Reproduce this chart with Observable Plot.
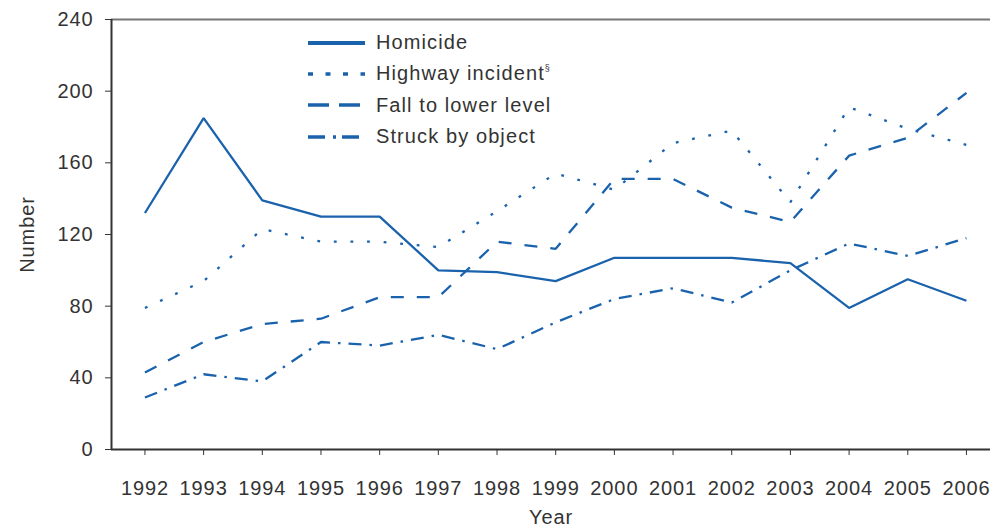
<!DOCTYPE html>
<html>
<head>
<meta charset="utf-8">
<script src="https://cdn.jsdelivr.net/npm/d3@7"></script>
<script src="https://cdn.jsdelivr.net/npm/@observablehq/plot@0.6"></script>
<style>
  html, body { margin: 0; padding: 0; background: #fff; }
  #wrap { position: relative; width: 990px; height: 529px; font-family: "Liberation Sans", Arial, sans-serif; }
  #legend { position: absolute; left: 308px; top: 27px; }
  .row { display: flex; align-items: center; height: 31.3px; }
  .row svg { width: 57px; height: 10px; margin-right: 11px; }
  .row span { font-size: 20px; color: #333; letter-spacing: 1.1px; }
  sup { font-size: 9px; vertical-align: 9px; letter-spacing: 0; }
  #wrap svg text { letter-spacing: 0.9px; }
</style>
</head>
<body>
<div id="wrap"></div>
<script>
const years = [1992, 1993, 1994, 1995, 1996, 1997, 1998, 1999, 2000, 2001, 2002, 2003, 2004, 2005, 2006];
const homicide = [132, 185, 139, 130, 130, 100, 99, 94, 107, 107, 107, 104, 79, 95, 83];
const highway = [79, 94, 123, 116, 116, 113, 133, 154, 145, 171, 178, 138, 191, 179, 170];
const fall = [43, 60, 70, 73, 85, 85, 116, 112, 151, 151, 135, 127, 164, 174, 199];
const struck = [29, 42, 38, 60, 58, 64, 56, 71, 84, 90, 82, 100, 115, 108, 118];
const yTicks = [0, 40, 80, 120, 160, 200, 240];
const seriesNames = ["Homicide", "Highway incident", "Fall to lower level", "Struck by object"];

const blue = "#1b62ad";
const series = [
  {name: seriesNames[0], values: homicide, dash: null, legendDash: null, legendWidth: 4},
  {name: seriesNames[1], values: highway, dash: "2.8,13.8", legendDash: "5,12.5", legendWidth: 3.5},
  {name: seriesNames[2], values: fall, dash: "13,13", legendDash: "21,10", legendWidth: 3.5},
  {name: seriesNames[3], values: struck, dash: "13,8,2.5,8", legendDash: "17,8,3,6", legendWidth: 3.5}
];

const lineMarks = series.map(s => Plot.line(years.map((y, i) => ({year: y, value: s.values[i]})), {
  x: "year", y: "value", stroke: blue, strokeWidth: 2.3,
  strokeDasharray: s.dash || undefined, strokeLinejoin: "miter", strokeLinecap: "butt"
}));

const chart = Plot.plot({
  width: 990,
  height: 529,
  marginLeft: 111,
  marginRight: 0,
  marginTop: 19,
  marginBottom: 80,
  style: {fontFamily: "'Liberation Sans', Arial, sans-serif", fontSize: "20px", color: "#333", background: "#fff"},
  x: {type: "linear", domain: [1991.43, 2006.41]},
  y: {domain: [0, 240]},
  marks: [
    Plot.ruleY([240], {stroke: "#777", strokeWidth: 2}),
    Plot.axisX({ticks: years, tickFormat: d => String(d), tickSize: 6, tickPadding: 25, label: "Year", labelAnchor: "center", labelOffset: 74, labelArrow: "none", stroke: "#333", fontSize: 20}),
    Plot.axisY({ticks: yTicks, tickSize: 6, tickPadding: 12, label: "Number", labelAnchor: "center", labelOffset: 92, labelArrow: "none", stroke: "#333", fontSize: 20}),
    Plot.ruleY([0], {stroke: "#333", strokeWidth: 2}),
    Plot.ruleX([1991.43], {stroke: "#333", strokeWidth: 2}),
    ...lineMarks
  ]
});
document.getElementById("wrap").appendChild(chart);

const legend = document.createElement("div");
legend.id = "legend";
series.forEach((s, i) => {
  const row = document.createElement("div");
  row.className = "row";
  const dashAttr = s.legendDash ? ` stroke-dasharray="${s.legendDash}"` : "";
  row.innerHTML = `<svg viewBox="0 0 57 10"><line x1="0" y1="5" x2="57" y2="5" stroke="${blue}" stroke-width="${s.legendWidth}"${dashAttr}/></svg><span>${s.name}${i === 1 ? "<sup>§</sup>" : ""}</span>`;
  legend.appendChild(row);
});
document.getElementById("wrap").appendChild(legend);
</script>
</body>
</html>
